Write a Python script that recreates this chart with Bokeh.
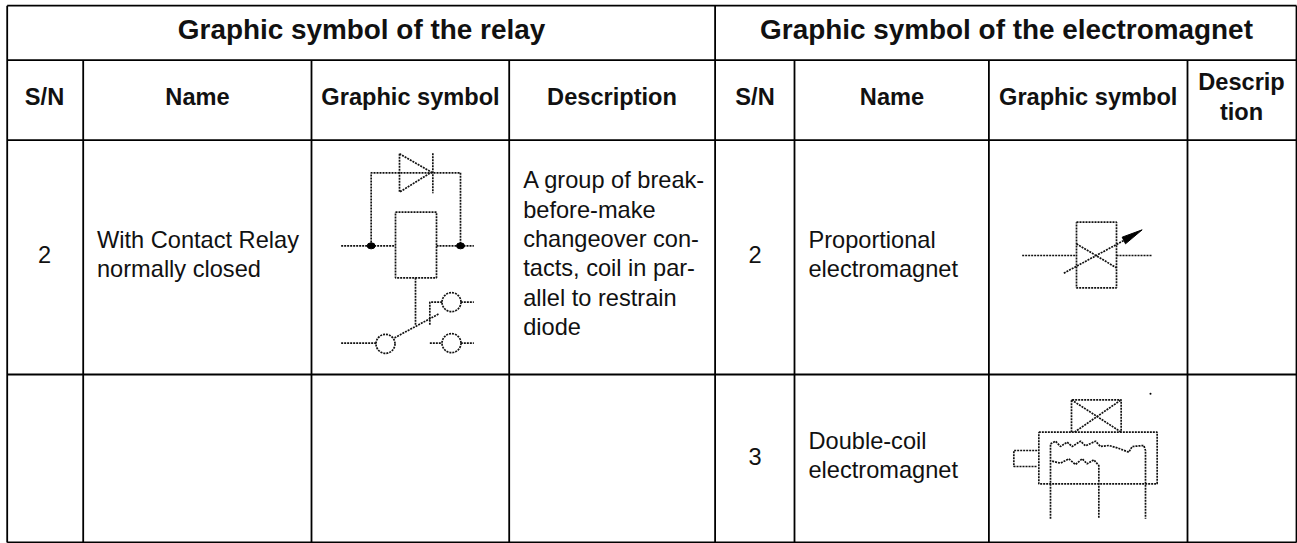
from bokeh.plotting import figure
from bokeh.models import Range1d
from bokeh.core.properties import value
from bokeh.embed import file_html
from bokeh.resources import INLINE

W, H = 1297, 543
FONT = "Liberation Sans"

# table grid
left, right, top, bottom = 6.7, 1296, 5.2, 542
header_y = 59.7
sub_y = 139.6
row_y = 374
col_x = [82.7, 311, 508.7, 714.6, 794, 988.4, 1187]

titles = [("Graphic symbol of the relay", 361, 28.5), ("Graphic symbol of the electromagnet", 1006, 28.5)]
subheads = [("S/N", 44, 96), ("Name", 197, 96), ("Graphic symbol", 410, 96), ("Description", 611.5, 96),
            ("S/N", 754.5, 96), ("Name", 891.5, 96), ("Graphic symbol", 1087.7, 96),
            ("Descrip", 1241, 81), ("tion", 1241, 111)]
centered = [("2", 44, 253.5), ("2", 754.5, 253.5), ("3", 754.5, 455.5)]
lefted = [("With Contact Relay", 96.5, 239), ("normally closed", 96.5, 268),
          ("A group of break-", 522.7, 179.5), ("before-make", 522.7, 209), ("changeover con-", 522.7, 238.5),
          ("tacts, coil in par-", 522.7, 267.5), ("allel to restrain", 522.7, 297), ("diode", 522.7, 326.5),
          ("Proportional", 808, 239), ("electromagnet", 808, 268),
          ("Double-coil", 808, 440), ("electromagnet", 808, 469)]

relay_symbol = [
    [(237, 40), (237, 155), (333, 95), (237, 40)],
    [(337, 38), (337, 158)],
    [(152, 315), (152, 97), (420, 97), (420, 315)],
    [(62, 316), (225, 316)], [(348, 316), (460, 316)],
    [(225, 215), (348, 215), (348, 412), (225, 412), (225, 215)],
    [(285, 412), (285, 555)],
    [(222, 592), (355, 520)],
    [(62, 608), (167, 608)],
    [(421, 485), (460, 485)],
    [(365, 485), (328, 485), (328, 555)],
    [(328, 608), (365, 608)], [(421, 608), (460, 608)],
]
relay_circles = [(195, 610), (393, 485), (393, 608)]
relay_dots = [(152, 316), (420, 316)]
prop_symbol = [
    [(228, 125), (348, 125), (348, 322), (228, 322), (228, 125)],
    [(228, 190), (348, 262)],
    [(190, 278), (370, 180)],
    [(65, 225), (228, 225)], [(348, 225), (455, 225)],
]
prop_arrow = [(425, 148), (365, 170), (375, 190)]
coil_symbol = [
    [(213, 125), (213, 28), (362, 28), (362, 125)],
    [(213, 28), (362, 125)], [(222, 125), (362, 28)],
    [(115, 125), (470, 125), (470, 280), (115, 280), (115, 125)],
    [(110, 180), (40, 180), (40, 228), (110, 228)],
    [(150, 385), (150, 160), (165, 152), (180, 168), (200, 155), (215, 168), (240, 152), (255, 166), (285, 152),
     (300, 168), (325, 165), (350, 172), (385, 185), (395, 168), (430, 165), (435, 180), (435, 385)],
    [(155, 212), (180, 218), (205, 205), (225, 222), (245, 205), (260, 220), (280, 208), (295, 225), (295, 385)],
]
coil_speck = [(450, 10)]

p = figure(width=W, height=H, x_range=Range1d(0, W), y_range=Range1d(H, 0),
           output_backend="svg", toolbar_location=None, min_border=0,
           outline_line_color=None, margin=0)
p.xaxis.visible = False
p.yaxis.visible = False
p.grid.visible = False

# grid lines
hy = [top, header_y, sub_y, row_y, bottom]
p.segment(x0=[left] * 5, y0=hy, x1=[right] * 5, y1=hy, line_color="black", line_width=1.8)
vx = [left, right, col_x[3]]
p.segment(x0=vx, y0=[top] * 3, x1=vx, y1=[bottom] * 3, line_color="black", line_width=1.8)
cx = [c for i, c in enumerate(col_x) if i != 3]
p.segment(x0=cx, y0=[header_y] * 6, x1=cx, y1=[bottom] * 6, line_color="black", line_width=1.8)


def put(items, size, style, align):
    p.text(x=[t[1] for t in items], y=[t[2] for t in items], text=[t[0] for t in items],
           text_font=value(FONT), text_font_size=size, text_font_style=style,
           text_align=align, text_baseline="middle", text_color="#111111")


put(titles, "27.9px", "bold", "center")
put(subheads, "23.6px", "bold", "center")
put(centered, "23.6px", "normal", "center")
put(lefted, "23.6px", "normal", "left")


def tr(pts, ox, oy):
    return [ox + a / 3 for a, _ in pts], [oy + b / 3 for _, b in pts]


def strokes(lines, ox, oy):
    for ln in lines:
        xs, ys = tr(ln, ox, oy)
        p.line(xs, ys, line_color="#111111", line_width=1.7, line_dash="2 1")


strokes(relay_symbol, 320, 140)
xs, ys = tr(relay_circles, 320, 140)
p.scatter(xs, ys, size=19, marker="circle", fill_color=None, line_color="#111111", line_width=1.7, line_dash="2 1")
xs, ys = tr(relay_dots, 320, 140)
p.ellipse(xs, ys, width=8, height=6, fill_color="black", line_color="black")

strokes(prop_symbol, 1000, 180)
xs, ys = tr(prop_arrow, 1000, 180)
p.patch(xs, ys, fill_color="black", line_color="black")

strokes(coil_symbol, 1000, 390)
xs, ys = tr(coil_speck, 1000, 390)
p.scatter(xs, ys, size=2, marker="circle", fill_color="black", line_color=None)

open("out.html", "w").write(file_html(p, INLINE))
